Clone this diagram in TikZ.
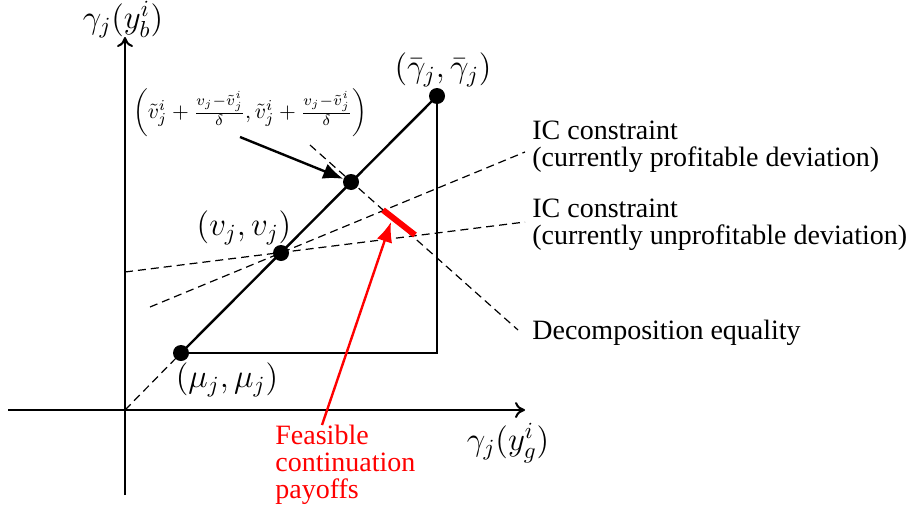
\RequirePackage{fix-cm}
\documentclass[tikz,border=0pt]{standalone}
\usepackage{fontspec}
\setmainfont{Liberation Serif}
\usetikzlibrary{arrows.meta}
\begin{document}
\begin{tikzpicture}[x=0.5pt,y=-0.5pt,
  dot/.style={circle,fill=black,inner sep=0pt,minimum size=8pt},
  axis/.style={line width=1pt,-{To[length=5pt,width=8pt]}},
  solidline/.style={line width=1.2pt},
  dashline/.style={line width=0.6pt,dash pattern=on 4pt off 2.5pt},
  lbl/.style={font=\fontsize{14}{13.5}\selectfont,inner sep=0pt},
  mlbl/.style={font=\fontsize{16.5}{19}\selectfont,inner sep=0pt}]
\useasboundingbox (0,0) rectangle (914,514);
% axes
\coordinate (xs) at (8,410);
\coordinate (xe) at (525,410);
\coordinate (ys) at (125,495);
\coordinate (ye) at (125,37);
\coordinate (O) at (125,410);
\draw[axis] (xs) -- (xe);
\draw[axis] (ys) -- (ye);
% points
\node[dot] (mu) at (181,353) {};
\node[dot] (v) at (281,253) {};
\node[dot] (p) at (351,182) {};
\node[dot] (g) at (437,96) {};
\coordinate (c) at (437,353);
% dashed lines
\draw[dashline] (O) -- (mu.center);
\coordinate (d1) at (310,145);
\coordinate (d2) at (518,330);
\draw[dashline] (d1) -- (d2);
\coordinate (ip1) at (150,307);
\coordinate (ip2) at (525,152);
\draw[dashline] (ip1) -- (ip2);
\coordinate (iu1) at (125,272);
\coordinate (iu2) at (525,222);
\draw[dashline] (iu1) -- (iu2);
% triangle
\draw[solidline] (mu.center) -- (g.center);
\draw[solidline] (mu.center) -- (c) -- (g.center);
% red
\coordinate (r1) at (383,210);
\coordinate (r2) at (415,235);
\draw[red,line width=3pt] (r1) -- (r2);
\coordinate (rs) at (322,425);
\coordinate (re) at (391,222);
\draw[red,line width=1.2pt,-{Latex[length=10pt,width=8pt]}] (rs) -- (re);
% black arrow
\coordinate (bs) at (240,137);
\draw[line width=1.2pt,-{Latex[length=10pt,width=8pt]}] (bs) -- (p);
% labels
\node[mlbl] (ly) at (123,20) {$\gamma_j(y_b^i)$};
\node[mlbl] (lx) at (508,443) {$\gamma_j(y_g^i)$};
\node[mlbl] (lg) at (443,70) {$(\bar\gamma_j,\bar\gamma_j)$};
\node[mlbl] (lv) at (244,228) {$(v_j,v_j)$};
\node[mlbl] (lm) at (227,380) {$(\mu_j,\mu_j)$};
\node[inner sep=0pt,font=\fontsize{10.8}{13}\selectfont] (lf) at (250,113)
  {$\left(\tilde v_j^i+\frac{v_j-\tilde v_j^i}{\delta},\tilde v_j^i+\frac{v_j-\tilde v_j^i}{\delta}\right)$};
\node[lbl,anchor=west,align=left] (lip) at (532,147) {IC constraint\\(currently profitable deviation)};
\node[lbl,anchor=west,align=left] (liu) at (532,225) {IC constraint\\(currently unprofitable deviation)};
\node[lbl,anchor=west] (lde) at (532,333) {Decomposition equality};
\node[lbl,anchor=west,align=left,text=red] (lfe) at (275,465) {Feasible\\continuation\\payoffs};
\end{tikzpicture}
\end{document}
